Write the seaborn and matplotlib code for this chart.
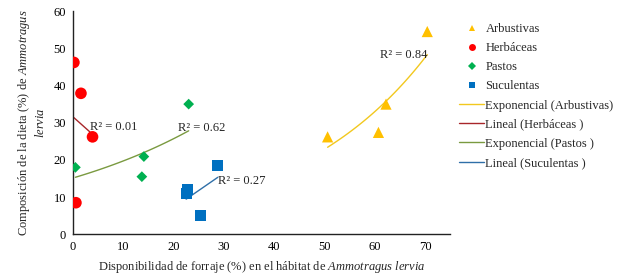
import numpy as np
import pandas as pd
import seaborn as sns
import matplotlib
matplotlib.use("Agg")
import matplotlib.pyplot as plt
from matplotlib.lines import Line2D

# ---- data ----
arb_x = [50.6, 60.7, 62.2, 70.4]
arb_y = [26.2, 27.4, 35.0, 54.5]
her_x = [0.2, 1.6, 3.9, 0.6]
her_y = [46.2, 37.9, 26.2, 8.5]
pas_x = [0.5, 13.7, 14.1, 23.0]
pas_y = [18.0, 15.5, 20.9, 35.0]
suc_x = [22.5, 22.7, 25.3, 28.8]
suc_y = [11.0, 12.1, 5.0, 18.4]
groups = ["Arbustivas", "Herbáceas", "Pastos", "Suculentas"]
fit_labels = ["Exponencial (Arbustivas)", "Lineal (Herbáceas )",
              "Exponencial (Pastos )", "Lineal (Suculentas )"]
fit_kinds = ["exp", "lin", "exp", "lin"]
r2_texts = ["R² = 0.84", "R² = 0.01", "R² = 0.62", "R² = 0.27"]
r2_pos = [(61.0, 48.2), (3.4, 28.9), (20.9, 28.5), (28.9, 14.4)]

sns.set_style("white")
plt.rcParams['font.family'] = ['Liberation Serif', 'DejaVu Serif']
plt.rcParams['mathtext.fontset'] = 'custom'
plt.rcParams['mathtext.rm'] = 'Liberation Serif'
plt.rcParams['mathtext.it'] = 'Liberation Serif:italic'

FS = 9
colors = {"Arbustivas": "#FFC000", "Herbáceas": "#FF0000",
          "Pastos": "#00B050", "Suculentas": "#0070C0"}
markers = {"Arbustivas": "^", "Herbáceas": "o", "Pastos": "D", "Suculentas": "s"}
sizes = {"Arbustivas": 65, "Herbáceas": 70, "Pastos": 30, "Suculentas": 60}
line_colors = ["#F2C81E", "#A8262A", "#7A9A40", "#2F6FA8"]

xs = [arb_x, her_x, pas_x, suc_x]
ys = [arb_y, her_y, pas_y, suc_y]
df = pd.DataFrame({
    "x": sum(xs, []),
    "y": sum(ys, []),
    "g": sum([[g] * len(x) for g, x in zip(groups, xs)], []),
})

fig = plt.figure(figsize=(6.23, 2.77), dpi=100)
ax = fig.add_axes([0.117, 0.154, 0.606, 0.806])

for g in groups:
    sub = df[df.g == g]
    sns.scatterplot(data=sub, x="x", y="y", ax=ax, color=colors[g],
                    marker=markers[g], s=sizes[g], edgecolor="none",
                    linewidth=0, legend=False, zorder=3)

for x, y, kind, lc in zip(xs, ys, fit_kinds, line_colors):
    x = np.array(x); y = np.array(y)
    xx = np.linspace(x.min(), x.max(), 100)
    if kind == "lin":
        b, a = np.polyfit(x, y, 1)
        yy = a + b * xx
    else:
        b, a = np.polyfit(x, np.log(y), 1)
        yy = np.exp(a + b * xx)
    ax.plot(xx, yy, color=lc, lw=1.0, zorder=2)

for t, (px, py) in zip(r2_texts, r2_pos):
    ax.text(px, py, t, fontsize=FS, va="center", ha="left", zorder=4)

ax.set_xlim(0, 75)
ax.set_ylim(0, 60)
ax.set_xticks(range(0, 71, 10))
ax.set_yticks(range(0, 61, 10))
for s in ["top", "right"]:
    ax.spines[s].set_visible(False)
for s in ["left", "bottom"]:
    ax.spines[s].set_color("#222222")
    ax.spines[s].set_linewidth(1.0)
ax.tick_params(axis="both", direction="out", length=3, width=0.8,
               labelsize=FS, colors="#222222", labelcolor="black", pad=2)
ax.set_xlabel(r"Disponibilidad de forraje (%) en el hábitat de $\mathit{Ammotragus\ lervia}$",
              fontsize=FS, labelpad=4)
ax.set_ylabel("Composición de la dieta (%) de $\\mathit{Ammotragus}$\n$\\mathit{lervia}$",
              fontsize=FS, labelpad=5, linespacing=1.15)

handles = [Line2D([], [], ls="none", marker=markers[g], color=colors[g],
                  markersize=5 if g != "Pastos" else 4, markeredgewidth=0)
           for g in groups]
handles += [Line2D([], [], color=c, lw=1.0) for c in line_colors]
labels = groups + fit_labels
fig.legend(handles, labels, loc="upper left", bbox_to_anchor=(0.729, 0.935),
           frameon=False, fontsize=FS, handlelength=2.0, handletextpad=0.1,
           labelspacing=0.57, borderaxespad=0)

fig.savefig("out.png", dpi=100)
